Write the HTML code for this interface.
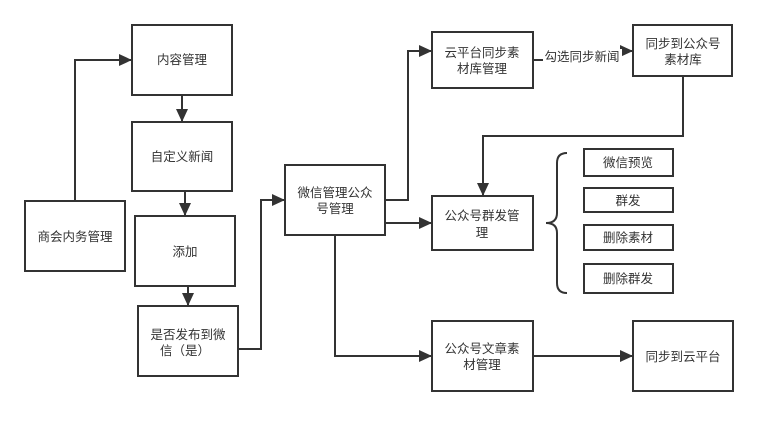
<!DOCTYPE html>
<html><head><meta charset="utf-8"><style>
body{margin:0;background:#fff;}
svg text{font-family:"Liberation Sans","Noto Sans CJK SC",sans-serif;font-size:12.5px;fill:#333;}
</style></head><body>
<svg width="758" height="416" viewBox="0 0 758 416" xmlns="http://www.w3.org/2000/svg">
<defs><marker id="a" markerWidth="13" markerHeight="12" refX="12" refY="6" orient="auto" markerUnits="userSpaceOnUse"><path d="M0,0 L13,6 L0,12 z" fill="#333"/></marker></defs>
<g fill="#fff" stroke="#333" stroke-width="2">
<rect x="132" y="25" width="100" height="70"/>
<rect x="132" y="122" width="100" height="69"/>
<rect x="135" y="216" width="100" height="70"/>
<rect x="138" y="306" width="100" height="70"/>
<rect x="25" y="201" width="100" height="70"/>
<rect x="285" y="165" width="100" height="70"/>
<rect x="432" y="32" width="101" height="56"/>
<rect x="633" y="25" width="99" height="51"/>
<rect x="432" y="196" width="101" height="54"/>
<rect x="432" y="321" width="101" height="70"/>
<rect x="633" y="321" width="100" height="70"/>
<rect x="584" y="149" width="89" height="27"/>
<rect x="584" y="188" width="89" height="24"/>
<rect x="584" y="225" width="89" height="25"/>
<rect x="584" y="264" width="89" height="29"/>
</g>
<g fill="none" stroke="#333" stroke-width="2">
<polyline points="75,201 75,60 131,60" marker-end="url(#a)"/>
<line x1="182" y1="95" x2="182" y2="121" marker-end="url(#a)"/>
<line x1="185" y1="191" x2="185" y2="215" marker-end="url(#a)"/>
<line x1="188" y1="286" x2="188" y2="305" marker-end="url(#a)"/>
<polyline points="238,349 261,349 261,200 284,200" marker-end="url(#a)"/>
<polyline points="385,200 408,200 408,51 431,51" marker-end="url(#a)"/>
<line x1="385" y1="223" x2="431" y2="223" marker-end="url(#a)"/>
<polyline points="335,235 335,356 431,356" marker-end="url(#a)"/>
<line x1="533" y1="356" x2="632" y2="356" marker-end="url(#a)"/>
<polyline points="533,60 583,60 583,51 632,51" marker-end="url(#a)"/>
<polyline points="683,76 683,136 483,136 483,195" marker-end="url(#a)"/>
<path d="M567,153 Q557,153 557,163 L557,213 Q557,223 546,223 Q557,223 557,233 L557,283 Q557,293 567,293"/>
</g>
<rect x="543" y="49" width="79" height="16" fill="#fff"/>
<g text-anchor="middle">
<text x="182" y="64">内容管理</text>
<text x="182" y="161">自定义新闻</text>
<text x="185" y="256">添加</text>
<text x="188" y="339">是否发布到微</text>
<text x="185" y="355">信（是）</text>
<text x="75" y="241">商会内务管理</text>
<text x="335" y="197">微信管理公众</text>
<text x="335" y="213">号管理</text>
<text x="482" y="57">云平台同步素</text>
<text x="482" y="73">材库管理</text>
<text x="582" y="61">勾选同步新闻</text>
<text x="683" y="48">同步到公众号</text>
<text x="683" y="64">素材库</text>
<text x="482" y="220">公众号群发管</text>
<text x="482" y="237">理</text>
<text x="628" y="167">微信预览</text>
<text x="628" y="205">群发</text>
<text x="628" y="242">删除素材</text>
<text x="628" y="283">删除群发</text>
<text x="482" y="353">公众号文章素</text>
<text x="482" y="369">材管理</text>
<text x="683" y="361">同步到云平台</text>
</g>
</svg>
</body></html>
